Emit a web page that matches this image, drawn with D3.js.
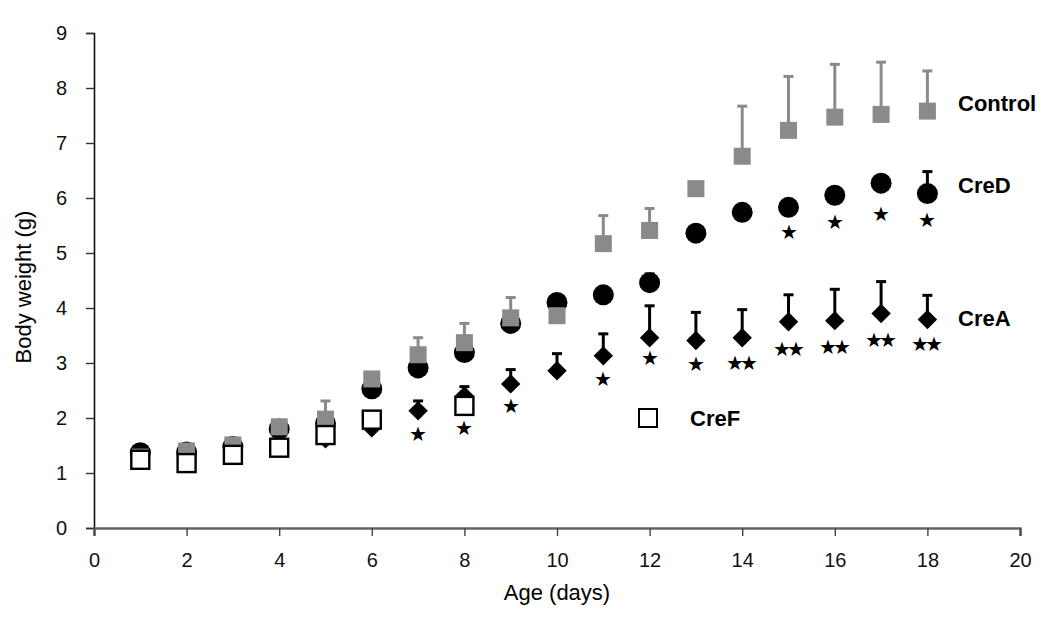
<!DOCTYPE html>
<html><head><meta charset="utf-8">
<script src="https://cdn.jsdelivr.net/npm/d3@7/dist/d3.min.js"></script>
<style>body{margin:0;background:#fff}text{font-family:"Liberation Sans",Arial,sans-serif}</style>
</head><body><svg id="c" width="1050" height="618"></svg>
<script>
const days = [1,2,3,4,5,6,7,8,9,10,11,12,13,14,15,16,17,18];
const controlMean = [1.29,1.40,1.51,1.84,1.98,2.71,3.15,3.37,3.82,3.86,5.17,5.41,6.17,6.76,7.23,7.47,7.52,7.58];
const controlErr  = [null,null,null,null,2.31,null,3.46,3.72,4.19,null,5.68,5.81,null,7.67,8.21,8.43,8.47,8.31];
const creDMean = [1.37,1.38,1.48,1.80,1.90,2.53,2.91,3.19,3.72,4.10,4.24,4.46,5.36,5.74,5.83,6.05,6.27,6.08];
const creDErr  = [null,null,null,null,null,null,null,null,null,null,null,4.62,null,null,null,null,6.36,6.48];
const creAMean = [1.30,1.25,1.35,1.50,1.62,1.82,2.13,2.40,2.62,2.86,3.13,3.46,3.41,3.46,3.75,3.77,3.90,3.79];
const creAErr  = [null,null,null,null,null,null,2.31,2.57,2.88,3.17,3.53,4.04,3.92,3.97,4.24,4.34,4.48,4.23];
const creFDays = [1,2,3,4,5,6,8];
const creFMean = [1.24,1.18,1.33,1.46,1.69,1.97,2.22];
const creAStarDays = [7,8,9,11,12,13,14,15,16,17,18];
const creAStarY = [1.71,1.82,2.22,2.71,3.10,2.99,3.01,3.26,3.30,3.42,3.35];
const creAStarLabel = ["*","*","*","*","*","*","**","**","**","**","**"];
const creDStarDays = [15,16,17,18];
const creDStarY = [5.39,5.56,5.72,5.61];
const xTicks = [0,2,4,6,8,10,12,14,16,18,20];
const yTicks = [0,1,2,3,4,5,6,7,8,9];
const seriesLabels = ["Control","CreD","CreA","CreF"];

const svg = d3.select("#c");
const x = d3.scaleLinear().domain([0,20]).range([94,1020]);
const y = d3.scaleLinear().domain([0,9]).range([528,33]);
const GRAY = "#8a8a8a";

// axes
const yAx = svg.append("g").attr("transform","translate(94,0)")
  .call(d3.axisLeft(y).tickValues(yTicks).tickSize(8).tickPadding(19).tickFormat(d3.format("d")));
yAx.select(".domain").attr("stroke","#111").attr("stroke-width",1.6);
yAx.selectAll(".tick line").attr("stroke","#333").attr("stroke-width",1.4);
yAx.selectAll("text").attr("font-size",20).attr("fill","#111");

const xAx = svg.append("g").attr("transform","translate(0,528)")
  .call(d3.axisBottom(x).tickValues(xTicks).tickSize(8).tickPadding(17).tickFormat(d3.format("d")));
xAx.select(".domain").attr("stroke","#666").attr("stroke-width",2.5);
xAx.selectAll(".tick line").attr("stroke","#444").attr("stroke-width",1.4);
xAx.selectAll("text").attr("font-size",20).attr("fill","#111");

svg.append("text").attr("x",557).attr("y",600).attr("text-anchor","middle").attr("font-size",22).text("Age (days)");
svg.append("text").attr("transform","translate(31,287) rotate(-90)").attr("text-anchor","middle").attr("font-size",22).text("Body weight (g)");

function errBars(g, means, errs, color){
  days.forEach((d,i)=>{
    if(errs[i]==null) return;
    g.append("line").attr("x1",x(d)).attr("x2",x(d)).attr("y1",y(means[i])).attr("y2",y(errs[i]))
      .attr("stroke",color).attr("stroke-width",3);
    g.append("line").attr("x1",x(d)-5).attr("x2",x(d)+5).attr("y1",y(errs[i])).attr("y2",y(errs[i]))
      .attr("stroke",color).attr("stroke-width",3);
  });
}

// CreA diamonds
const gA = svg.append("g");
errBars(gA, creAMean, creAErr, "#000");
gA.selectAll("path").data(days).enter().append("path")
  .attr("d", d3.symbol().type(d3.symbolDiamond2).size(240))
  .attr("transform",(d,i)=>`translate(${x(d)},${y(creAMean[i])})`).attr("fill","#000");

// CreD circles
const gD = svg.append("g");
errBars(gD, creDMean, creDErr, "#000");
gD.selectAll("circle").data(days).enter().append("circle")
  .attr("cx",d=>x(d)).attr("cy",(d,i)=>y(creDMean[i])).attr("r",10.5).attr("fill","#000");

// Control squares
const gC = svg.append("g");
errBars(gC, controlMean, controlErr, GRAY);
gC.selectAll("rect").data(days).enter().append("rect")
  .attr("x",d=>x(d)-8.5).attr("y",(d,i)=>y(controlMean[i])-8.5).attr("width",17).attr("height",17).attr("fill",GRAY);

// CreF open squares
const gF = svg.append("g");
gF.selectAll("rect").data(creFDays).enter().append("rect")
  .attr("x",d=>x(d)-9).attr("y",(d,i)=>y(creFMean[i])-9).attr("width",18).attr("height",18)
  .attr("fill","#fff").attr("stroke","#000").attr("stroke-width",2.4);

// significance stars
const starText = s => s.replace(/\*/g,"\u2605");
const gS = svg.append("g").attr("font-family","DejaVu Sans").attr("font-size",20).attr("text-anchor","middle");
creAStarDays.forEach((d,i)=>{
  const dbl = creAStarLabel[i].length>1;
  gS.append("text").attr("x",x(d)).attr("y",y(creAStarY[i])).attr("dy","0.36em").attr("dx",dbl?-2:0)
    .attr("letter-spacing",dbl?-4:0).text(starText(creAStarLabel[i]));
});
creDStarDays.forEach((d,i)=>{
  gS.append("text").attr("x",x(d)).attr("y",y(creDStarY[i])).attr("dy","0.36em").text(starText("*"));
});

// labels
const lg = svg.append("g").attr("font-size",22).attr("font-weight","bold").attr("fill","#000");
lg.append("text").attr("x",958).attr("y",111).text(seriesLabels[0]);
lg.append("text").attr("x",958).attr("y",193).text(seriesLabels[1]);
lg.append("text").attr("x",958).attr("y",326).text(seriesLabels[2]);
svg.append("rect").attr("x",639).attr("y",409).attr("width",18).attr("height",18)
  .attr("fill","#fff").attr("stroke","#000").attr("stroke-width",2);
lg.append("text").attr("x",690).attr("y",426).text(seriesLabels[3]);
</script></body></html>
